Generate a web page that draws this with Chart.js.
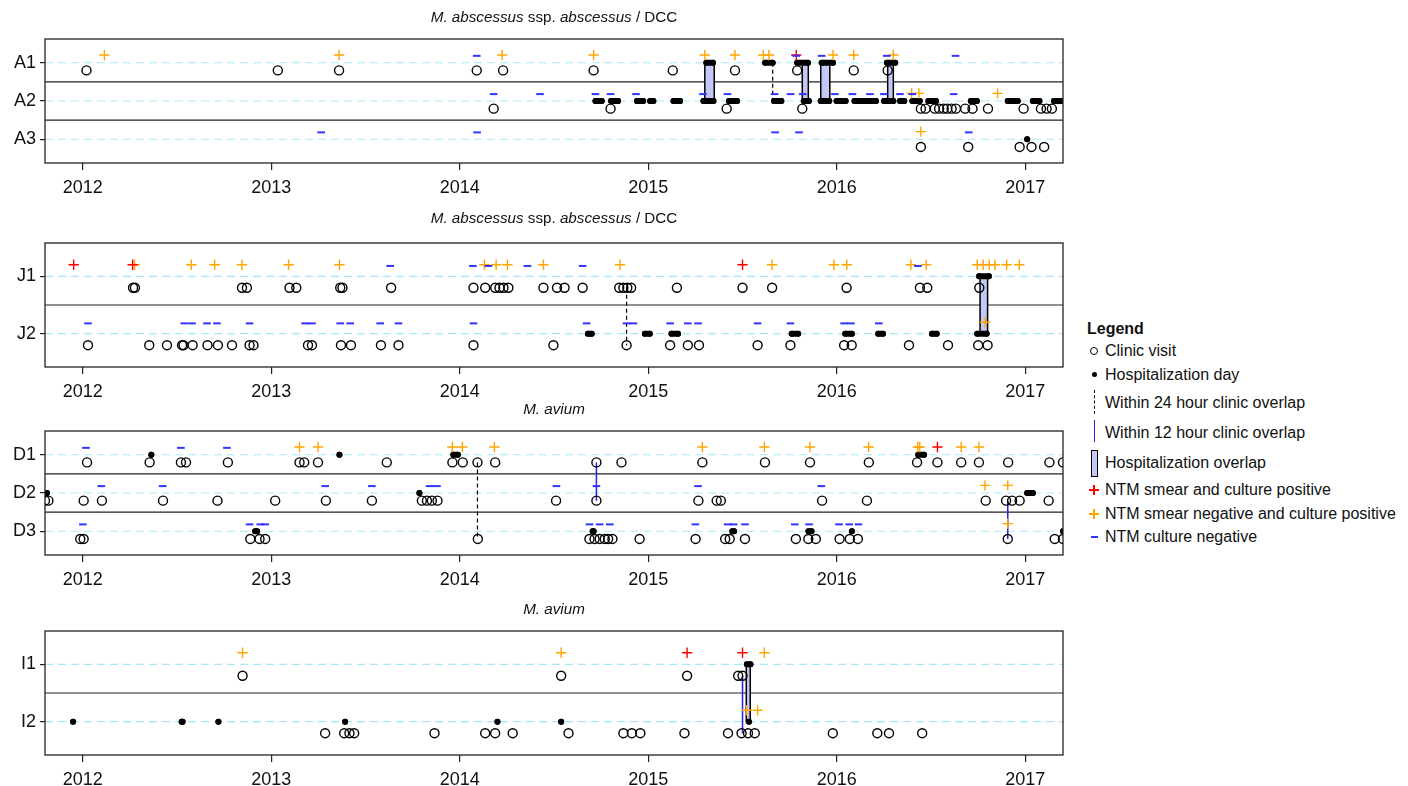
<!DOCTYPE html>
<html>
<head>
<meta charset="utf-8">
<script src="https://cdn.jsdelivr.net/npm/chart.js@4.4.1/dist/chart.umd.min.js"></script>
<style>
  body { margin: 0; background: #fff; width: 1408px; height: 786px; overflow: hidden; position: relative;
         font-family: "Liberation Sans", Arial, Helvetica, sans-serif; color: #111; }
  canvas { position: absolute; left: 0; }
  .lg { position: absolute; font-size: 16px; line-height: 20px; white-space: nowrap; }
  .sym { position: absolute; box-sizing: border-box; }
</style>
</head>
<body>
<canvas id="panelA"></canvas>
<canvas id="panelJ"></canvas>
<canvas id="panelD"></canvas>
<canvas id="panelI"></canvas>

<div id="legend">
  <div class="lg" style="left:1087px;top:319px;font-weight:bold;">Legend</div>

  <div class="sym" style="left:1090px;top:347px;width:8px;height:8px;border:1.4px solid #000;border-radius:50%;"></div>
  <div class="lg" style="left:1105px;top:341px;">Clinic visit</div>

  <div class="sym" style="left:1091.5px;top:372px;width:5px;height:5px;background:#000;border-radius:50%;"></div>
  <div class="lg" style="left:1105px;top:365px;">Hospitalization day</div>

  <div class="sym" style="left:1093.5px;top:390px;width:0;height:24px;border-left:1.2px dashed #000;"></div>
  <div class="lg" style="left:1105px;top:393px;">Within 24 hour clinic overlap</div>

  <div class="sym" style="left:1093.5px;top:420px;width:0;height:22px;border-left:1.5px solid #2222ee;"></div>
  <div class="lg" style="left:1105px;top:423px;">Within 12 hour clinic overlap</div>

  <div class="sym" style="left:1091px;top:450px;width:7px;height:27px;background:#c4c8f7;border:1.4px solid #000;"></div>
  <div class="lg" style="left:1105px;top:453px;">Hospitalization overlap</div>

  <div class="sym" style="left:1089px;top:489px;width:10px;height:1.5px;background:#ff0000;"></div>
  <div class="sym" style="left:1093.3px;top:485px;width:1.5px;height:10px;background:#ff0000;"></div>
  <div class="lg" style="left:1105px;top:480px;">NTM smear and culture positive</div>

  <div class="sym" style="left:1089px;top:513px;width:10px;height:1.5px;background:#ffa500;"></div>
  <div class="sym" style="left:1093.3px;top:509px;width:1.5px;height:10px;background:#ffa500;"></div>
  <div class="lg" style="left:1105px;top:504px;">NTM smear negative and culture positive</div>

  <div class="sym" style="left:1090.5px;top:536px;width:7px;height:2px;background:#3333ff;"></div>
  <div class="lg" style="left:1105px;top:527px;">NTM culture negative</div>
</div>

<script>
// ---- axis ----
const X_MIN = 2011.8, X_MAX = 2017.2;
const YEAR_TICKS = [2012, 2013, 2014, 2015, 2016, 2017];

// ---- panel A : M. abscessus ssp. abscessus / DCC ----
const A1_clinic = [2012.02, 2013.035, 2013.36, 2014.09, 2014.23, 2014.71, 2015.13, 2015.46, 2015.79, 2016.09, 2016.27];
const A1_smearPos = [2015.785];
const A1_culturePos = [2012.115, 2013.36, 2014.225, 2014.71, 2015.30, 2015.46, 2015.61, 2015.64, 2015.98, 2016.09, 2016.30];
const A1_cultureNeg = [2014.09, 2015.785, 2015.92, 2016.265, 2016.63];
const A1_hosp = [[2015.308, 2015.343], [2015.62, 2015.66], [2015.79, 2015.847], [2015.92, 2015.98], [2016.266, 2016.31]];

const A2_clinic = [2014.18, 2014.80, 2015.416, 2015.817, 2016.446, 2016.471, 2016.52, 2016.543, 2016.567, 2016.586,
  2016.609, 2016.632, 2016.681, 2016.72, 2016.802, 2016.991, 2017.083, 2017.113, 2017.141];
const A2_smearPos = [];
const A2_culturePos = [2016.397, 2016.436, 2016.853];
const A2_cultureNeg = [2014.18, 2014.426, 2014.72, 2014.80, 2014.935, 2015.29, 2015.42, 2015.67, 2015.755, 2015.82,
  2015.99, 2016.083, 2016.176, 2016.25, 2016.335, 2016.40, 2016.62];
const A2_hosp = [[2014.72, 2014.753], [2014.803, 2014.84], [2014.94, 2014.973], [2015.01, 2015.027], [2015.134, 2015.169],
  [2015.293, 2015.346], [2015.428, 2015.471], [2015.667, 2015.706], [2015.825, 2015.852], [2015.915, 2015.96],
  [2015.999, 2016.047], [2016.094, 2016.208], [2016.251, 2016.30], [2016.335, 2016.358], [2016.401, 2016.44],
  [2016.486, 2016.526], [2016.711, 2016.743], [2016.907, 2016.96], [2017.04, 2017.075], [2017.152, 2017.2]];

const A3_clinic = [2016.446, 2016.697, 2016.97, 2017.033, 2017.10];
const A3_smearPos = [];
const A3_culturePos = [2016.446];
const A3_cultureNeg = [2013.265, 2014.092, 2015.673, 2015.80, 2016.70];
const A3_hosp = [[2017.01, 2017.01]];

const A_overlap = [[2015.30, 2015.35, 'A1', 'A2'], [2015.817, 2015.849, 'A1', 'A2'], [2015.915, 2015.963, 'A1', 'A2'], [2016.27, 2016.30, 'A1', 'A2']];
const A_link24 = [[2015.66, 'A1', 'A2', 'hosp']];
const A_link12 = [];

// ---- panel J : M. abscessus ssp. abscessus / DCC ----
const J1_clinic = [2012.267, 2012.277, 2012.845, 2012.871, 2013.097, 2013.133, 2013.366, 2013.378, 2013.636, 2014.073,
  2014.135, 2014.188, 2014.211, 2014.232, 2014.258, 2014.444, 2014.516, 2014.556, 2014.652, 2014.846, 2014.868,
  2014.889, 2014.909, 2015.152, 2015.50, 2015.657, 2016.052, 2016.441, 2016.48, 2016.756];
const J1_smearPos = [2011.952, 2012.265, 2015.50];
const J1_culturePos = [2012.275, 2012.576, 2012.70, 2012.845, 2013.092, 2013.362, 2014.131, 2014.193, 2014.253, 2014.444,
  2014.85, 2015.657, 2015.985, 2016.053, 2016.393, 2016.474, 2016.745, 2016.777, 2016.809, 2016.839, 2016.901, 2016.968];
const J1_cultureNeg = [2013.631, 2014.07, 2014.152, 2014.359, 2014.652, 2016.43];
const J1_hosp = [[2016.755, 2016.807]];

const J2_clinic = [2012.028, 2012.353, 2012.447, 2012.527, 2012.535, 2012.583, 2012.662, 2012.717, 2012.792, 2012.885,
  2012.906, 2013.195, 2013.216, 2013.37, 2013.423, 2013.582, 2013.675, 2014.073, 2014.497, 2014.885, 2015.116,
  2015.21, 2015.269, 2015.58, 2015.754, 2016.039, 2016.079, 2016.383, 2016.59, 2016.75, 2016.80];
const J2_smearPos = [];
const J2_culturePos = [2016.787];
const J2_cultureNeg = [2012.028, 2012.539, 2012.58, 2012.659, 2012.712, 2012.885, 2013.18, 2013.216, 2013.366, 2013.419,
  2013.578, 2013.675, 2014.073, 2014.673, 2014.885, 2014.921, 2015.116, 2015.21, 2015.264, 2015.58, 2015.754,
  2016.039, 2016.075, 2016.223];
const J2_hosp = [[2014.68, 2014.70], [2014.982, 2015.008], [2015.123, 2015.158], [2015.761, 2015.795], [2016.045, 2016.08],
  [2016.22, 2016.245], [2016.505, 2016.53], [2016.745, 2016.795]];

const J_overlap = [[2016.76, 2016.80, 'J1', 'J2']];
const J_link24 = [[2014.885, 'J1', 'J2', 'clinic']];
const J_link12 = [];

// ---- panel D : M. avium ----
const D1_clinic = [2012.023, 2012.355, 2012.521, 2012.548, 2012.77, 2013.15, 2013.175, 2013.248, 2013.613, 2013.961,
  2014.016, 2014.094, 2014.188, 2014.725, 2014.858, 2015.287, 2015.619, 2015.858, 2016.17, 2016.426, 2016.534,
  2016.66, 2016.754, 2016.909, 2017.128, 2017.2];
const D1_smearPos = [2016.534];
const D1_culturePos = [2013.15, 2013.248, 2013.961, 2014.014, 2014.184, 2015.287, 2015.616, 2015.858, 2016.169, 2016.43,
  2016.44, 2016.66, 2016.754];
const D1_cultureNeg = [2012.017, 2012.521, 2012.765];
const D1_hosp = [[2012.364, 2012.364], [2013.362, 2013.362], [2013.966, 2013.99], [2016.432, 2016.463]];

const D2_clinic = [2011.80, 2011.818, 2012.005, 2012.102, 2012.426, 2012.715, 2013.021, 2013.29, 2013.534, 2013.799,
  2013.826, 2013.852, 2013.882, 2014.511, 2014.725, 2015.266, 2015.363, 2015.385, 2015.922, 2016.16, 2016.79,
  2016.898, 2016.93, 2016.97, 2017.124];
const D2_smearPos = [];
const D2_culturePos = [2016.786, 2016.907];
const D2_cultureNeg = [2012.099, 2012.424, 2013.286, 2013.534, 2013.84, 2013.879, 2014.513, 2014.725, 2015.264, 2015.918];
const D2_hosp = [[2011.81, 2011.81], [2013.786, 2013.786], [2017.01, 2017.04]];

const D3_clinic = [2011.987, 2012.005, 2012.889, 2012.938, 2012.968, 2014.096, 2014.688, 2014.715, 2014.742, 2014.769,
  2014.787, 2014.81, 2014.954, 2015.251, 2015.408, 2015.432, 2015.513, 2015.783, 2015.849, 2015.889, 2016.015,
  2016.069, 2016.112, 2016.907, 2017.156, 2017.2];
const D3_smearPos = [];
const D3_culturePos = [2016.907];
const D3_cultureNeg = [2012.001, 2012.885, 2012.942, 2012.968, 2014.688, 2014.742, 2014.796, 2015.25, 2015.421, 2015.453,
  2015.513, 2015.777, 2015.853, 2016.012, 2016.066, 2016.115];
const D3_hosp = [[2012.915, 2012.925], [2014.705, 2014.71], [2015.446, 2015.455], [2015.85, 2015.866], [2016.08, 2016.08], [2017.2, 2017.2]];

const D_overlap = [];
const D_link24 = [[2014.094, 'D1', 'D3', 'clinic']];
const D_link12 = [[2014.725, 'D1', 'D2', 'clinic'], [2016.907, 'D2', 'D3', 'clinic']];

// ---- panel I : M. avium ----
const I1_clinic = [2012.848, 2014.538, 2015.206, 2015.477, 2015.50];
const I1_smearPos = [2015.206, 2015.50];
const I1_culturePos = [2012.848, 2014.538, 2015.616];
const I1_cultureNeg = [];
const I1_hosp = [[2015.523, 2015.542]];

const I2_clinic = [2013.286, 2013.387, 2013.415, 2013.44, 2013.866, 2014.135, 2014.188, 2014.281, 2014.577, 2014.868,
  2014.913, 2014.958, 2015.192, 2015.423, 2015.495, 2015.529, 2015.565, 2015.979, 2016.215, 2016.277, 2016.453];
const I2_smearPos = [];
const I2_culturePos = [2015.522, 2015.58];
const I2_cultureNeg = [];
const I2_hosp = [[2011.949, 2011.949], [2012.525, 2012.53], [2012.72, 2012.72], [2013.392, 2013.392], [2014.20, 2014.20],
  [2014.538, 2014.538], [2015.534, 2015.534]];

const I_overlap = [[2015.52, 2015.541, 'I1', 'I2']];
const I_link24 = [];
const I_link12 = [[2015.50, 'I1', 'I2', 'clinic']];

// ---- layout / style ----
const FONT = '"Liberation Sans", Arial, Helvetica, sans-serif';
const CANVAS_W = 1075, PLOT_LEFT = 45, PLOT_RIGHT = 1063;
const PAD_TOP = 32, FRAME_H = 124, AXIS_H = 36;
const MARK_OFF = 0.2;           // clinic visits below the row, tests above it
const COL = {
  orange: '#ffa500', red: '#ff0000', blue: '#3333ff', link: '#2222ee',
  row: '#a6e9f6', overlap: '#c4c8f7', frame: '#222'
};

const ITAL_TITLE = [['M. abscessus', 'italic'], [' ssp. ', 'normal'], ['abscessus', 'italic'], [' / DCC', 'normal']];
const AVIUM_TITLE = [['M. avium', 'italic']];

// draws the mixed italic title, row guides, separators, overlap bars and the frame
const panelDecor = {
  id: 'panelDecor',
  beforeDatasetsDraw(chart, args, opts) {
    const { ctx, chartArea: a, scales: { x, y } } = chart;
    const n = opts.rows.length;
    ctx.save();
    ctx.beginPath(); ctx.rect(a.left, a.top, a.right - a.left, a.bottom - a.top); ctx.clip();
    // dashed row guides
    ctx.strokeStyle = COL.row; ctx.lineWidth = 1.2; ctx.setLineDash([8, 5]);
    for (let v = 1; v <= n; v++) {
      const py = y.getPixelForValue(v);
      ctx.beginPath(); ctx.moveTo(a.left, py); ctx.lineTo(a.right, py); ctx.stroke();
    }
    // solid separators
    ctx.setLineDash([]); ctx.strokeStyle = COL.frame; ctx.lineWidth = 1.2;
    for (let v = 1; v < n; v++) {
      const py = y.getPixelForValue(v + 0.5);
      ctx.beginPath(); ctx.moveTo(a.left, py); ctx.lineTo(a.right, py); ctx.stroke();
    }
    // hospitalization overlap bars
    opts.overlap.forEach(([x0, x1, r0, r1]) => {
      const px0 = x.getPixelForValue(x0), px1 = x.getPixelForValue(x1);
      const py0 = y.getPixelForValue(opts.rowY[r0]), py1 = y.getPixelForValue(opts.rowY[r1]);
      ctx.fillStyle = COL.overlap;
      ctx.fillRect(px0, py0, px1 - px0, py1 - py0);
      ctx.lineWidth = 1.5; ctx.strokeStyle = '#000';
      ctx.strokeRect(px0, py0, px1 - px0, py1 - py0);
    });
    ctx.restore();
  },
  afterDatasetsDraw(chart) {
    const { ctx, chartArea: a } = chart;
    ctx.save();
    ctx.strokeStyle = COL.frame; ctx.lineWidth = 1.3;
    ctx.strokeRect(a.left, a.top, a.right - a.left, a.bottom - a.top);
    ctx.restore();
  },
  afterDraw(chart, args, opts) {
    const { ctx, chartArea: a } = chart;
    ctx.save();
    ctx.fillStyle = '#111'; ctx.textBaseline = 'middle';
    const widths = opts.title.map(([t, s]) => { ctx.font = s + ' 15.2px ' + FONT; return ctx.measureText(t).width; });
    const total = widths.reduce((p, w) => p + w, 0);
    let cx = (a.left + a.right) / 2 - total / 2;
    const ty = a.top - opts.titleGap;
    opts.title.forEach(([t, s], i) => {
      ctx.font = s + ' 15.2px ' + FONT; ctx.textAlign = 'left';
      ctx.fillText(t, cx, ty); cx += widths[i];
    });
    ctx.restore();
  }
};

function pts(xs, yv) { return xs.map(v => ({ x: v, y: yv })); }

function makePanel(id, frameTop, titleGap, title, rows, overlap, link24, link12) {
  const canvas = document.getElementById(id);
  canvas.width = CANVAS_W;
  canvas.height = PAD_TOP + FRAME_H + AXIS_H;
  canvas.style.top = (frameTop - PAD_TOP) + 'px';

  const n = rows.length;
  const rowY = {}, labelAt = {};
  rows.forEach((r, i) => { rowY[r.label] = n - i; labelAt[n - i] = r.label; });

  const clinic = [], smear = [], culture = [], neg = [], hosp = [];
  rows.forEach(r => {
    const v = rowY[r.label];
    clinic.push(...pts(r.clinic, v - MARK_OFF));
    smear.push(...pts(r.smearPos, v + MARK_OFF));
    culture.push(...pts(r.culturePos, v + MARK_OFF));
    neg.push(...pts(r.cultureNeg, v + MARK_OFF - 0.02));
    r.hosp.forEach(([s, e]) => {
      hosp.push({ x: s, y: v });
      if (e > s) hosp.push({ x: e, y: v });
      hosp.push({ x: e, y: null });
    });
  });
  const linkPts = list => {
    const out = [];
    list.forEach(([xv, r0, r1, kind]) => {
      const off = kind === 'clinic' ? -MARK_OFF : 0;
      out.push({ x: xv, y: rowY[r0] + off }, { x: xv, y: rowY[r1] + off }, { x: xv, y: null });
    });
    return out;
  };

  const base = { clip: 0, showLine: false, pointHoverRadius: 0 };
  const datasets = [
    { ...base, label: 'NTM culture negative', data: neg, pointStyle: 'line', pointRadius: 3.8,
      pointBorderColor: COL.blue, pointBorderWidth: 2 },
    { ...base, label: 'NTM smear and culture positive', data: smear, pointStyle: 'cross', pointRadius: 5.2,
      pointBorderColor: COL.red, pointBorderWidth: 1.4 },
    { ...base, label: 'NTM smear negative and culture positive', data: culture, pointStyle: 'cross', pointRadius: 5.2,
      pointBorderColor: COL.orange, pointBorderWidth: 1.4 },
    { ...base, label: 'Clinic visit', data: clinic, pointStyle: 'circle', pointRadius: 4.5,
      pointBorderColor: '#000', pointBackgroundColor: 'rgba(0,0,0,0)', pointBorderWidth: 1.4 },
    { ...base, label: 'Hospitalization day', data: hosp, showLine: true, spanGaps: false,
      borderColor: '#000', borderWidth: 6, borderCapStyle: 'round', borderJoinStyle: 'round',
      pointRadius: 3, pointBackgroundColor: '#000', pointBorderWidth: 0 },
    { ...base, label: 'Within 12 hour clinic overlap', data: linkPts(link12), showLine: true, spanGaps: false,
      borderColor: COL.link, borderWidth: 1.5, pointRadius: 0 },
    { ...base, label: 'Within 24 hour clinic overlap', data: linkPts(link24), showLine: true, spanGaps: false,
      borderColor: '#000', borderWidth: 1.2, borderDash: [4, 3], pointRadius: 0 }
  ];

  const pad = 0.04 * n;
  return new Chart(canvas, {
    type: 'scatter',
    data: { datasets },
    plugins: [panelDecor],
    options: {
      responsive: false,
      animation: false,
      events: [],
      layout: { padding: { top: PAD_TOP, right: CANVAS_W - PLOT_RIGHT, left: 0, bottom: 0 } },
      plugins: {
        legend: { display: false },
        tooltip: { enabled: false },
        panelDecor: { rows, rowY, overlap, title, titleGap }
      },
      scales: {
        x: {
          type: 'linear', min: X_MIN, max: X_MAX,
          afterBuildTicks: s => { s.ticks = YEAR_TICKS.map(v => ({ value: v })); },
          afterFit: s => { s.height = AXIS_H; },
          ticks: { color: '#111', font: { size: 18, family: FONT }, padding: 7, maxRotation: 0, autoSkip: false,
                   callback: v => String(v) },
          grid: { drawOnChartArea: false, drawTicks: true, tickLength: 7, color: COL.frame, lineWidth: 1.2 },
          border: { display: false }
        },
        y: {
          type: 'linear', min: 0.5 - pad, max: n + 0.5 + pad,
          afterBuildTicks: s => { s.ticks = rows.map((r, i) => ({ value: n - i })); },
          afterFit: s => { s.width = PLOT_LEFT; },
          ticks: { color: '#111', font: { size: 18, family: FONT }, padding: 4, autoSkip: false,
                   callback: v => labelAt[v] },
          grid: { drawOnChartArea: false, drawTicks: true, tickLength: 5, color: COL.frame, lineWidth: 1.2 },
          border: { display: false }
        }
      }
    }
  });
}

function row(label, clinic, smearPos, culturePos, cultureNeg, hosp) {
  return { label, clinic, smearPos, culturePos, cultureNeg, hosp };
}

makePanel('panelA', 39, 21, ITAL_TITLE, [
  row('A1', A1_clinic, A1_smearPos, A1_culturePos, A1_cultureNeg, A1_hosp),
  row('A2', A2_clinic, A2_smearPos, A2_culturePos, A2_cultureNeg, A2_hosp),
  row('A3', A3_clinic, A3_smearPos, A3_culturePos, A3_cultureNeg, A3_hosp)
], A_overlap, A_link24, A_link12);

makePanel('panelJ', 242.5, 24, ITAL_TITLE, [
  row('J1', J1_clinic, J1_smearPos, J1_culturePos, J1_cultureNeg, J1_hosp),
  row('J2', J2_clinic, J2_smearPos, J2_culturePos, J2_cultureNeg, J2_hosp)
], J_overlap, J_link24, J_link12);

makePanel('panelD', 431, 21, AVIUM_TITLE, [
  row('D1', D1_clinic, D1_smearPos, D1_culturePos, D1_cultureNeg, D1_hosp),
  row('D2', D2_clinic, D2_smearPos, D2_culturePos, D2_cultureNeg, D2_hosp),
  row('D3', D3_clinic, D3_smearPos, D3_culturePos, D3_cultureNeg, D3_hosp)
], D_overlap, D_link24, D_link12);

makePanel('panelI', 631, 21, AVIUM_TITLE, [
  row('I1', I1_clinic, I1_smearPos, I1_culturePos, I1_cultureNeg, I1_hosp),
  row('I2', I2_clinic, I2_smearPos, I2_culturePos, I2_cultureNeg, I2_hosp)
], I_overlap, I_link24, I_link12);
</script>
</body>
</html>
